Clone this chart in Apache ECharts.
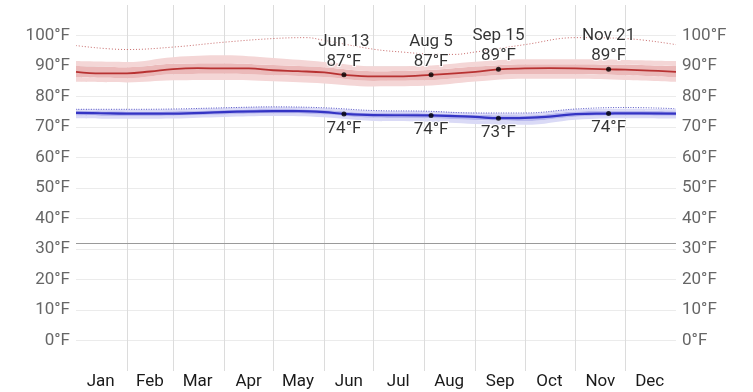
<!DOCTYPE html>
<html><head><meta charset="utf-8">
<script src="https://cdn.jsdelivr.net/npm/echarts@6/dist/echarts.min.js"></script>
<style>html,body{margin:0;padding:0;background:#fff}#c{width:753px;height:392px}</style>
</head><body><div id="c"></div>
<script>
// ---- data ----
const monthNames = ['Jan','Feb','Mar','Apr','May','Jun','Jul','Aug','Sep','Oct','Nov','Dec'];
const monthStartDays = [0,31,59,90,120,151,181,212,243,273,304,334];
const monthMidDays = [15,45,74,105,135,166,196,227,258,288,319,349];
const yTicks = [0,10,20,30,40,50,60,70,80,90,100];
const freezing = 32;

// average daily high (day of year -> °F)
const highDays = [0,15,31,45,59,74,90,105,120,135,151,163,181,196,216,243,257,273,288,304,324,334,349,365];
const highVals = [88.1,87.6,87.6,88.2,89.0,89.3,89.2,89.2,88.6,88.3,87.9,87.1,86.6,86.6,87.1,88.1,88.9,89.2,89.3,89.2,88.9,88.8,88.5,88.1];

// average daily low
const lowDays = [0,15,31,59,90,120,135,151,163,181,216,243,257,273,288,304,324,334,365];
const lowVals = [74.6,74.5,74.4,74.4,74.9,75.2,75.2,74.9,74.3,73.9,73.8,73.3,72.9,73.0,73.4,74.2,74.4,74.5,74.4];

// percentile bands
const bandDays = [0,31,59,90,120,151,181,212,243,273,304,334,365];
const highP10 = [84.8,84.6,85.3,85.4,85.0,84.3,83.3,83.5,84.9,85.8,85.8,85.4,84.8];
const highP25 = [86.3,86.0,87.3,87.5,87.0,86.4,85.1,85.3,86.5,87.4,87.3,87.0,86.3];
const highP75 = [90.0,89.6,90.7,90.9,90.3,89.6,88.3,88.6,89.8,90.6,90.6,90.4,90.0];
const highP90 = [91.6,91.3,92.9,93.5,92.6,91.3,89.9,90.1,91.4,92.2,92.2,92.0,91.6];
const lowP10 = [72.9,72.7,72.8,73.3,73.6,73.2,72.0,71.8,71.0,70.7,72.4,72.9,72.8];
const lowP25 = [73.8,73.6,73.7,74.1,74.4,74.1,73.0,72.9,72.3,72.0,73.4,73.8,73.7];
const lowP75 = [75.3,75.1,75.2,75.6,75.9,75.6,74.6,74.5,74.0,73.8,75.1,75.3,75.1];
const lowP90 = [75.9,75.7,75.8,76.3,76.6,76.2,75.3,75.2,74.7,74.5,75.8,76.0,75.8];

// perceived (dotted)
const feelDays = [0,31,59,90,120,140,151,181,200,216,230,243,258,273,304,334,365];
const feelHigh = [96.7,95.4,96.2,97.8,99.0,99.3,98.4,95.5,94.5,93.9,93.8,94.6,95.8,97.0,99.3,99.0,97.0];
const feelLowDays = [0,31,59,90,120,151,181,212,243,273,304,334,365];
const feelLow = [75.8,75.8,75.9,76.3,76.6,76.3,75.4,75.2,74.6,74.6,75.9,76.4,76.0];

// annotated points
const annDays = [163,216,257,324];
const annLabels = ['Jun 13','Aug 5','Sep 15','Nov 21'];
const annHigh = [87.1,87.1,88.9,88.9];
const annLow = [74.3,73.8,72.9,74.4];

// ---- build ----
const days = [];
for (let i = 0; i <= 365; i++) days.push(String(i));
const pairs = (xs, ys) => xs.map((x, i) => [x, ys[i]]);
const diff = (a, b) => a.map((v, i) => +(v - b[i]).toFixed(2));
const startSet = new Set(monthStartDays.filter(d => d > 0));
const midSet = new Set(monthMidDays);

const FONT = 'Roboto';
const hiLight = '#f4d6d6', hiDark = '#ebb9b9', hiLine = '#b83232';
const loLight = '#dadaf6', loDark = '#b8b8ee', loLine = '#3434c4';

function band(name, stack, vals, color, z) {
  return {
    type: 'line', name, stack, smooth: 0.4, symbol: 'none', z,
    data: pairs(bandDays, vals),
    lineStyle: { width: 0, opacity: 0 },
    areaStyle: color ? { color, opacity: 1 } : undefined,
    silent: true
  };
}

const splitColors = ['rgba(0,0,0,0)'];
for (let i = 0; i < 11; i++) splitColors.push('#ebebeb');
splitColors.push('rgba(0,0,0,0)');

const yAxisBase = {
  type: 'value', min: -10, max: 110, interval: 10,
  axisLine: { show: false }, axisTick: { show: false },
  axisLabel: {
    fontFamily: FONT, fontSize: 17, color: '#666', margin: 6,
    formatter: v => yTicks.includes(v) ? v + '°F' : ''
  }
};

const option = {
  animation: false,
  backgroundColor: '#fff',
  grid: { left: 76, right: 77, top: 5, bottom: 21 },
  xAxis: {
    type: 'category', data: days, boundaryGap: false,
    axisLine: { show: false }, axisTick: { show: false },
    axisLabel: {
      interval: (idx) => midSet.has(idx),
      formatter: (val) => monthNames[monthMidDays.indexOf(+val)],
      fontFamily: FONT, fontSize: 17, color: '#1a1a1a', margin: 2
    },
    splitLine: {
      show: true, interval: (idx) => startSet.has(idx),
      lineStyle: { color: '#dcdcdc', width: 1 }
    }
  },
  yAxis: [
    Object.assign({}, yAxisBase, { position: 'left', splitLine: { show: true, lineStyle: { color: splitColors, width: 1 } } }),
    Object.assign({}, yAxisBase, { position: 'right', splitLine: { show: false } })
  ],
  series: [
    band('hb', 'hi', highP10, null, 1),
    band('h1', 'hi', diff(highP25, highP10), hiLight, 1),
    band('h2', 'hi', diff(highP75, highP25), hiDark, 1),
    band('h3', 'hi', diff(highP90, highP75), hiLight, 1),
    band('lb', 'lo', lowP10, null, 1),
    band('l1', 'lo', diff(lowP25, lowP10), loLight, 1),
    band('l2', 'lo', diff(lowP75, lowP25), loDark, 1),
    band('l3', 'lo', diff(lowP90, lowP75), loLight, 1),
    {
      type: 'line', name: 'freeze', data: [], silent: true, z: 2,
      markLine: {
        silent: true, symbol: 'none', label: { show: false },
        lineStyle: { color: '#9a9a9a', width: 1, type: 'solid' },
        data: [{ yAxis: freezing }]
      }
    },
    {
      type: 'line', name: 'feelHigh', smooth: 0.4, symbol: 'none', z: 3,
      data: pairs(feelDays, feelHigh),
      lineStyle: { color: '#c86a6a', width: 1, type: [1, 2] }
    },
    {
      type: 'line', name: 'feelLow', smooth: 0.4, symbol: 'none', z: 3,
      data: pairs(feelLowDays, feelLow),
      lineStyle: { color: '#5a5ac8', width: 1, type: [1, 1.5] }
    },
    {
      type: 'line', name: 'high', smooth: 0.4, symbol: 'none', z: 4,
      data: pairs(highDays, highVals),
      lineStyle: { color: hiLine, width: 1.8 }
    },
    {
      type: 'line', name: 'low', smooth: 0.4, symbol: 'none', z: 4,
      data: pairs(lowDays, lowVals),
      lineStyle: { color: loLine, width: 2.2 }
    },
    {
      type: 'scatter', name: 'annHigh', z: 6, symbolSize: 5,
      itemStyle: { color: '#000' },
      data: annDays.map((d, i) => ({ value: [d, annHigh[i]], name: annLabels[i] })),
      label: {
        show: true, position: 'top', distance: 1,
        formatter: p => p.name + '\n' + Math.round(p.value[1]) + '°F',
        fontFamily: FONT, fontSize: 17, color: '#000', lineHeight: 20,
        textBorderColor: '#fff', textBorderWidth: 2
      }
    },
    {
      type: 'scatter', name: 'annLow', z: 6, symbolSize: 5,
      itemStyle: { color: '#000' },
      data: annDays.map((d, i) => [d, annLow[i]]),
      label: {
        show: true, position: 'bottom', distance: 2,
        formatter: p => Math.round(p.value[1]) + '°F',
        fontFamily: FONT, fontSize: 17, color: '#000', lineHeight: 20,
        textBorderColor: '#fff', textBorderWidth: 2
      }
    }
  ]
};

echarts.init(document.getElementById('c')).setOption(option);
</script>
</body></html>
